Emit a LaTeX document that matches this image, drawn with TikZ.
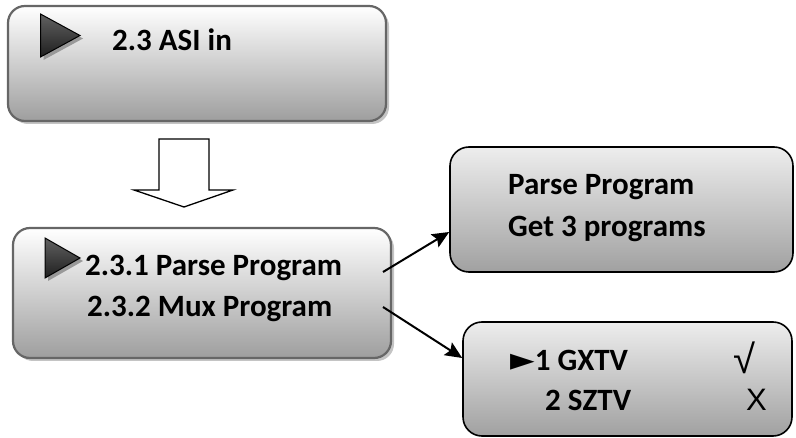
\documentclass[tikz,border=0pt]{standalone}
\usepackage{fontspec}
\setmainfont{Carlito}
\newfontfamily\symfont{DejaVu Sans}
\newfontfamily\markfont{Liberation Sans}
\usetikzlibrary{arrows.meta,shadows}
\definecolor{rimgray}{HTML}{666666}
\definecolor{shadowgray}{HTML}{C4C4C4}
\begin{document}
\begin{tikzpicture}[x=1pt,y=-1pt,
  menubox/.style={draw=rimgray, line width=2.2pt, rounded corners=17pt,
    top color=white, bottom color=black!38, inner sep=0pt,
    drop shadow={shadow xshift=3pt, shadow yshift=-3pt, fill=shadowgray, opacity=1}},
  lcdbox/.style={draw=black, line width=1.6pt, rounded corners=19pt,
    top color=black!7, bottom color=black!37, inner sep=0pt},
  txt/.style={anchor=base west, inner sep=0pt, font=\fontsize{31}{37}\selectfont\bfseries},
  flagtxt/.style={anchor=base west, inner sep=0pt, font=\markfont\fontsize{31}{35}\selectfont},
  conn/.style={line width=2pt, -{Stealth[length=17pt,width=15pt,inset=3pt]}},
  pointer/.style={draw=black, line width=1pt, top color=black!62, middle color=black, bottom color=black!88},
  pshadow/.style={fill=black!40}
]
\useasboundingbox (0,0) rectangle (796,438);

% menu boxes on the left
\node[menubox, minimum width=378pt, minimum height=115pt] (menu) at (197,63.5) {};
\node[menubox, minimum width=378pt, minimum height=130pt] (sub) at (202,293) {};

% result boxes on the right
\node[lcdbox, minimum width=343pt, minimum height=125pt] (parse) at (621.5,209.5) {};
\node[lcdbox, minimum width=329pt, minimum height=114pt] (mux) at (627.5,379) {};

% cursor pointers
\fill[pshadow] (43.5,17) -- (83,38.5) -- (43.5,60) -- cycle;
\draw[pointer] (40.5,14) -- (80,35.5) -- (40.5,57) -- cycle;
\fill[pshadow] (48,241) -- (83,261) -- (48,281) -- cycle;
\draw[pointer] (45,238) -- (80,258) -- (45,278) -- cycle;

% texts
\node[txt] (t1) at (112,51) {2.3 ASI in};
\node[txt] (t2) at (85,276) {2.3.1 Parse Program};
\node[txt] (t3) at (87,317) {2.3.2 Mux Program};
\node[txt] (t4) at (508,195) {Parse Program};
\node[txt] (t5) at (508,237) {Get 3 programs};
\node[txt] (t6) at (510,371) {{\symfont\fontsize{32}{38}\selectfont ►}1 GXTV};
\node[txt] (t7) at (545,411) {2 SZTV};
\node[flagtxt, font=\markfont\fontsize{40}{44}\selectfont] (t8) at (733,374) {√};
\node[flagtxt] (t9) at (746,411) {X};

% hollow block arrow between the menus
\draw[line width=1.3pt, fill=white]
  (159,139) -- (209,139) -- (209,190) -- (233,190) -- (184,207)
  -- (134,190) -- (159,190) -- cycle;

% connectors
\coordinate (p1) at (383,272);
\coordinate (p2) at (383,307);
\draw[conn] (p1) -- ([yshift=-22.5pt]parse.west);
\draw[conn] (p2) -- ([yshift=21pt]mux.west);
\end{tikzpicture}
\end{document}
